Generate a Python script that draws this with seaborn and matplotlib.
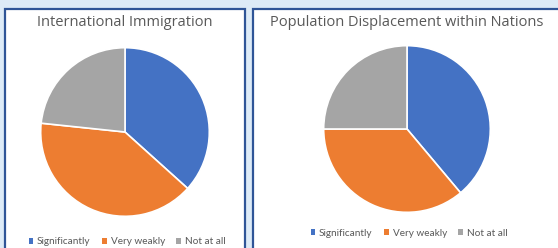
import matplotlib
matplotlib.use("Agg")
import matplotlib.pyplot as plt
import seaborn as sns
from matplotlib.patches import Rectangle, Patch

sns.set_theme(style="white")
plt.rcParams['font.family'] = ['Open Sans', 'DejaVu Sans']

categories = ["Significantly", "Very weakly", "Not at all"]
intl_values = [11, 12, 7]
internal_values = [14, 13, 9]
titles = ["International Immigration", "Population Displacement within Nations"]

colors = ["#4472C4", "#ED7D31", "#A5A5A5"]
W, H = 558, 248
fig = plt.figure(figsize=(W / 100, H / 100), dpi=100)
fig.patch.set_facecolor("#DDEBF7")

def px_rect(x0, y0_top, x1, y1_top):
    return [x0 / W, 1 - y1_top / H, (x1 - x0) / W, (y1_top - y0_top) / H]

# panels
for (x0, x1) in [(5, 245), (253, 570)]:
    r = px_rect(x0, 9, x1, 260)
    fig.patches.append(Rectangle((r[0], r[1]), r[2], r[3], transform=fig.transFigure,
                                 facecolor="white", edgecolor="#2F5597", linewidth=1.6,
                                 clip_on=False, zorder=-5))

pies = [(125, 132, 86, intl_values, 127, 22, 242), (407, 129, 85, internal_values, 409, 22, 233)]
for i, (cx, cy, rad, vals, tx, ty, ly) in enumerate(pies):
    ax = fig.add_axes(px_rect(cx - rad, cy - rad, cx + rad, cy + rad))
    ax.patch.set_alpha(0)
    ax.pie(vals, colors=colors, startangle=90, counterclock=False, radius=1,
           wedgeprops=dict(edgecolor="white", linewidth=1.2))
    ax.set_xlim(-1.02, 1.02)
    ax.set_ylim(-1.02, 1.02)
    ax.set_aspect("equal")
    ax.axis("off")
    fig.text(cx / W, 1 - ty / H, titles[i], ha="center", va="center",
             fontsize=10.5, color="#595959")
    handles = [Patch(facecolor=c, edgecolor="none") for c in colors]
    fig.legend(handles, categories, loc="center", bbox_to_anchor=(tx / W, 1 - ly / H),
               ncol=3, frameon=False, labelcolor="#595959",
               prop={"family": ["Lato", "DejaVu Sans"], "size": 7.2},
               handlelength=0.45, handleheight=0.45, handletextpad=0.4, columnspacing=1.15)

fig.savefig("out.png", dpi=100, facecolor=fig.get_facecolor())
